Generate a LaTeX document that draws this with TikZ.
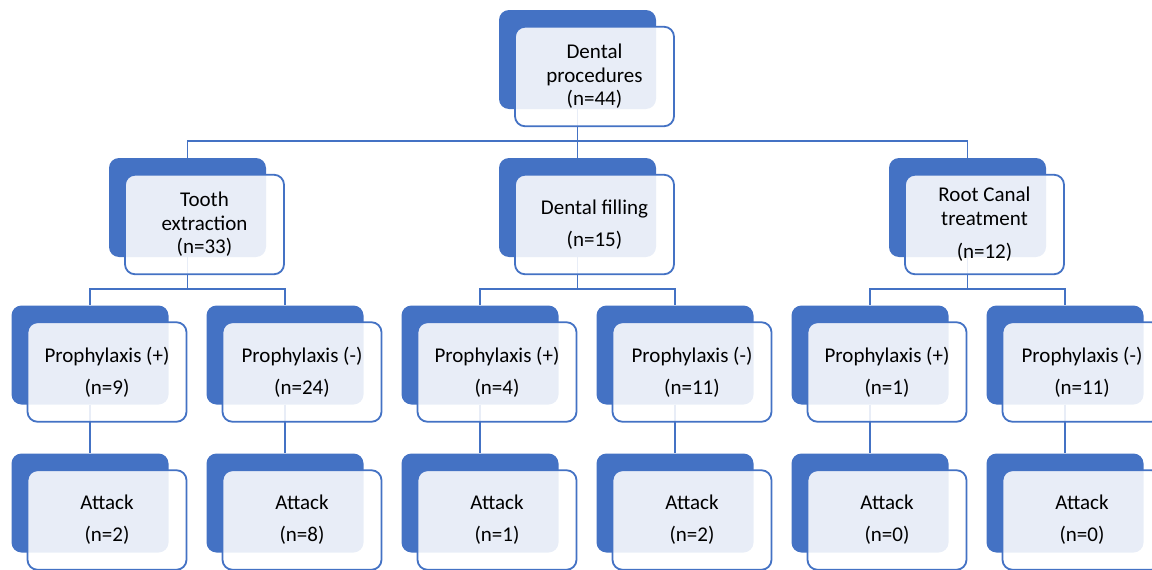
\documentclass[tikz,border=0pt]{standalone}
\usepackage{fontspec}
\setmainfont{Carlito}
\usepackage{tikz}
\definecolor{accent}{HTML}{4472C4}

\tikzset{
	back/.style={rectangle, rounded corners=10pt, fill=accent, inner sep=0pt,
		minimum width=157pt, minimum height=99pt},
	front/.style={rectangle, rounded corners=10pt, draw=accent, line width=1.8pt,
		fill=white, fill opacity=0.88, text opacity=1, inner sep=0pt,
		minimum width=159pt, minimum height=99.5pt, align=center,
		font=\fontsize{21}{23.5}\selectfont},
	conn/.style={draw=accent, line width=1.8pt},
}

\begin{document}
\begin{tikzpicture}[x=1pt, y=-1pt]
			\useasboundingbox (0,0) rectangle (1152,570);
			
			% back boxes
			\node[back] (top) at (577.5,59.5) {};
			\node[back] (tooth) at (187.5,207.5) {};
			\node[back] (fill) at (577.5,207.5) {};
			\node[back] (root) at (967.5,207.5) {};
			
			\node[back] (p1) at (90,355) {};
			\node[back] (p2) at (285,355) {};
			\node[back] (p3) at (480,355) {};
			\node[back] (p4) at (675,355) {};
			\node[back] (p5) at (870,355) {};
			\node[back] (p6) at (1065,355) {};
			
			\node[back] (a1) at (90,503) {};
			\node[back] (a2) at (285,503) {};
			\node[back] (a3) at (480,503) {};
			\node[back] (a4) at (675,503) {};
			\node[back] (a5) at (870,503) {};
			\node[back] (a6) at (1065,503) {};
			
			% connectors
			\coordinate (bus0) at (577.5,141);
			\coordinate (bus1) at (187.5,289);
			\coordinate (bus2) at (577.5,289);
			\coordinate (bus3) at (967.5,289);
			
			\draw[conn] (top) -- (bus0);
			\draw[conn] (bus0) -| (tooth);
			\draw[conn] (bus0) -- (fill);
			\draw[conn] (bus0) -| (root);
			
			\draw[conn] (tooth) -- (bus1);
			\draw[conn] (bus1) -| (p1);
			\draw[conn] (bus1) -| (p2);
			\draw[conn] (fill) -- (bus2);
			\draw[conn] (bus2) -| (p3);
			\draw[conn] (bus2) -| (p4);
			\draw[conn] (root) -- (bus3);
			\draw[conn] (bus3) -| (p5);
			\draw[conn] (bus3) -| (p6);
			
			\draw[conn] (p1) -- (a1);
			\draw[conn] (p2) -- (a2);
			\draw[conn] (p3) -- (a3);
			\draw[conn] (p4) -- (a4);
			\draw[conn] (p5) -- (a5);
			\draw[conn] (p6) -- (a6);
			
			% front boxes with the texts
			\node[front] (topf) at ([shift={(17,17)}]top.center) {Dental\\procedures\\(n=44)};
			\node[front] (toothf) at ([shift={(17,17)}]tooth.center) {Tooth\\extraction\\(n=33)};
			\node[front] (fillf) at ([shift={(17,17)}]fill.center) {Dental filling\\[8.5pt](n=15)};
			\node[front] (rootf) at ([shift={(17,17)}]root.center) {Root Canal\\treatment\\[10pt](n=12)};
			
			\node[front] (p1f) at ([shift={(17,17)}]p1.center) {Prophylaxis (+)\\[8.5pt](n=9)};
			\node[front] (p2f) at ([shift={(17,17)}]p2.center) {Prophylaxis (-)\\[8.5pt](n=24)};
			\node[front] (p3f) at ([shift={(17,17)}]p3.center) {Prophylaxis (+)\\[8.5pt](n=4)};
			\node[front] (p4f) at ([shift={(17,17)}]p4.center) {Prophylaxis (-)\\[8.5pt](n=11)};
			\node[front] (p5f) at ([shift={(17,17)}]p5.center) {Prophylaxis (+)\\[8.5pt](n=1)};
			\node[front] (p6f) at ([shift={(17,17)}]p6.center) {Prophylaxis (-)\\[8.5pt](n=11)};
			
			\node[front] (a1f) at ([shift={(17,17)}]a1.center) {Attack\\[8.5pt](n=2)};
			\node[front] (a2f) at ([shift={(17,17)}]a2.center) {Attack\\[8.5pt](n=8)};
			\node[front] (a3f) at ([shift={(17,17)}]a3.center) {Attack\\[8.5pt](n=1)};
			\node[front] (a4f) at ([shift={(17,17)}]a4.center) {Attack\\[8.5pt](n=2)};
			\node[front] (a5f) at ([shift={(17,17)}]a5.center) {Attack\\[8.5pt](n=0)};
			\node[front] (a6f) at ([shift={(17,17)}]a6.center) {Attack\\[8.5pt](n=0)};
			
		\end{tikzpicture}
\end{document}
